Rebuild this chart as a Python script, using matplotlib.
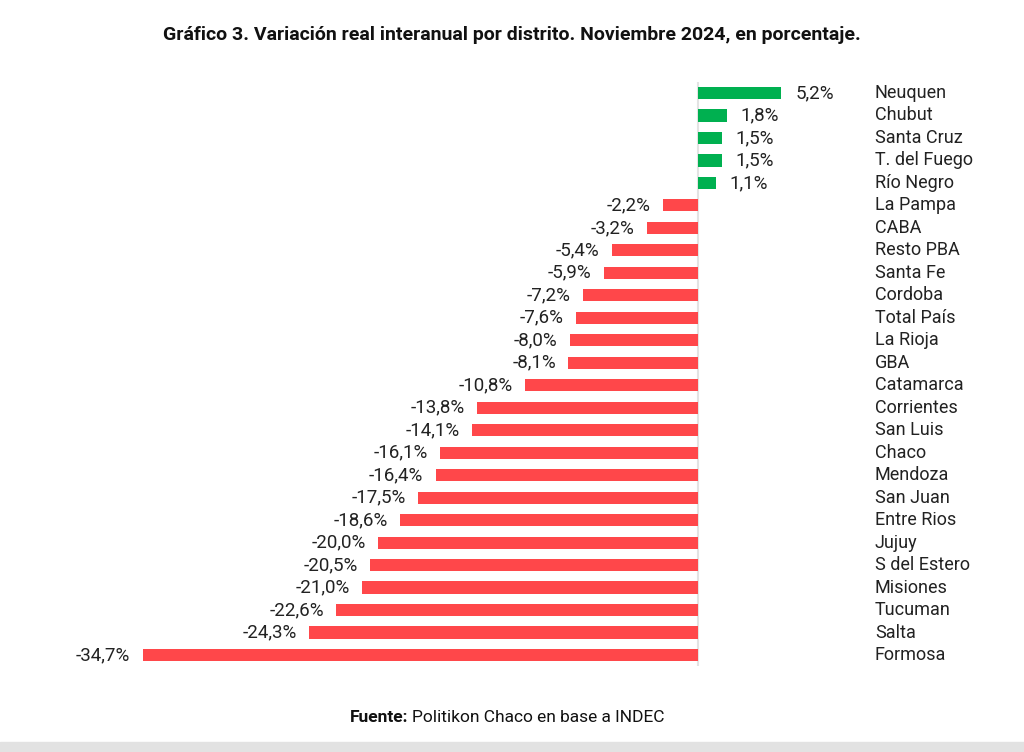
import matplotlib.pyplot as plt
from matplotlib.patches import Rectangle

distritos = ["Neuquen", "Chubut", "Santa Cruz", "T. del Fuego", "Río Negro",
             "La Pampa", "CABA", "Resto PBA", "Santa Fe", "Cordoba",
             "Total País", "La Rioja", "GBA", "Catamarca", "Corrientes",
             "San Luis", "Chaco", "Mendoza", "San Juan", "Entre Rios",
             "Jujuy", "S del Estero", "Misiones", "Tucuman", "Salta", "Formosa"]
variacion = [5.2, 1.8, 1.5, 1.5, 1.1,
             -2.2, -3.2, -5.4, -5.9, -7.2,
             -7.6, -8.0, -8.1, -10.8, -13.8,
             -14.1, -16.1, -16.4, -17.5, -18.6,
             -20.0, -20.5, -21.0, -22.6, -24.3, -34.7]

VERDE = "#00b050"
ROJO = "#ff474a"

plt.rcParams['font.family'] = ['Roboto', 'DejaVu Sans']

fig = plt.figure(figsize=(10.24, 7.52), dpi=100)
ax = fig.add_axes([58 / 1024, 1 - 666.24 / 752, 960 / 1024, (666.24 - 81.76) / 752])

y = list(range(len(distritos)))
colores = [VERDE if v > 0 else ROJO for v in variacion]
ax.barh(y, variacion, height=0.54, color=colores, zorder=2)
ax.axvline(0, color="#e3e3e3", lw=1.5, zorder=1)

for i, v in zip(y, variacion):
    txt = f"{v:.1f}%".replace(".", ",")
    if v > 0:
        ax.annotate(txt, (v, i), xytext=(10, 0), textcoords="offset points",
                    ha="left", va="center", fontsize=13.5, color="#222222")
    else:
        ax.annotate(txt, (v, i), xytext=(-9, 0), textcoords="offset points",
                    ha="right", va="center", fontsize=13.5, color="#222222")
    ax.text(11.06, i, distritos[i], ha="left", va="center", fontsize=13,
            color="#222222")

ax.set_xlim(-40, 20)
ax.set_ylim(len(distritos) - 0.5, -0.5)
ax.axis("off")

fig.text(0.5, 1 - 35 / 752,
         "Gráfico 3. Variación real interanual por distrito. Noviembre 2024, en porcentaje.",
         ha="center", va="center", fontsize=14, fontweight="bold", color="#111111")

# pie de fuente: parte en negrita y parte normal
x0 = 350 / 1024
t1 = fig.text(x0, 1 - 718 / 752, "Fuente:", ha="left", va="center",
              fontsize=12.5, fontweight="bold", color="#111111")
fig.canvas.draw()
ancho = t1.get_window_extent().width / 1024
fig.text(x0 + ancho + 4 / 1024, 1 - 718 / 752, "Politikon Chaco en base a INDEC",
         ha="left", va="center", fontsize=12.5, color="#111111")

fig.patches.append(Rectangle((0, 0), 1, 10 / 752, transform=fig.transFigure,
                             color="#e2e2e2", zorder=0))

plt.savefig("out.png", dpi=100)
